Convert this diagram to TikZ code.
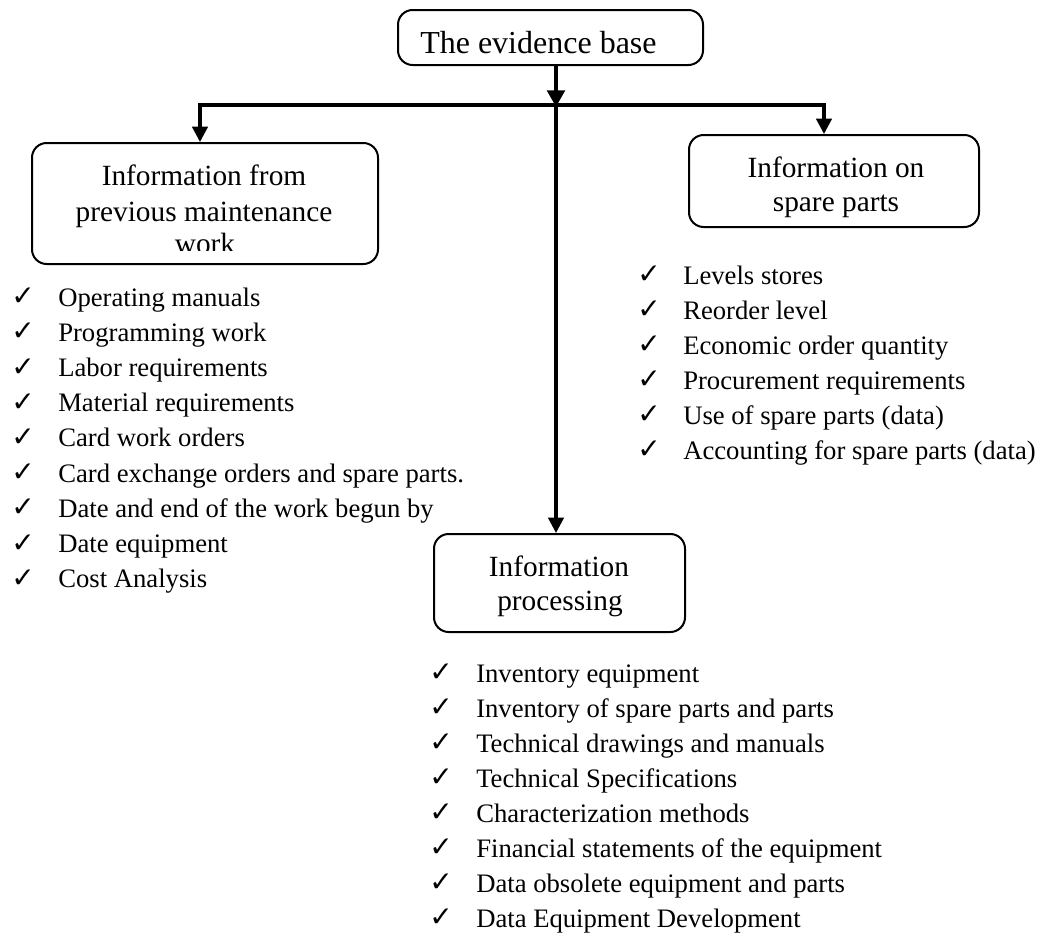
\documentclass[tikz,border=0pt]{standalone}
\usepackage{fontspec}
\setmainfont{Liberation Serif}
\newfontfamily\symfont{DejaVu Sans}
\usetikzlibrary{arrows.meta}

\tikzset{
  px/.style={x=0.75pt,y=-0.75pt},
  box/.style={draw, line width=1.5pt, rounded corners=11pt, inner sep=0pt},
  title/.style={anchor=base, inner sep=0pt, font=\fontsize{22}{26}\selectfont},
  item/.style={anchor=base west, inner sep=0pt, font=\fontsize{20}{24}\selectfont},
  tick/.style={anchor=base west, inner sep=0pt, yshift=0.3pt, font=\symfont\fontsize{21}{24}\selectfont},
  link/.style={line width=2.4pt},
  arrowlink/.style={line width=2.4pt, -{Triangle[length=11.5pt,width=11.5pt]}},
}

\begin{document}
\begin{tikzpicture}[px]
\useasboundingbox (0,0) rectangle (1040,935);

% boxes
\node[box, minimum width=228.75pt, minimum height=41.25pt] (base) at (550.5,37.5) {};
\node[box, minimum width=259.5pt, minimum height=90.75pt] (prev) at (205,203.5) {};
\node[box, minimum width=217.5pt, minimum height=69pt] (spare) at (834,181) {};
\node[box, minimum width=188.25pt, minimum height=73.5pt] (proc) at (559.5,583) {};

% box titles
\node[anchor=base west, inner sep=0pt, font=\fontsize{24}{28}\selectfont] (tbase) at (420,53) {The evidence base};
\node[title] (tprev1) at (204,185) {Information from};
\node[title] (tprev2) at (204,221) {previous maintenance};
\begin{scope}
  \clip (32,143) rectangle (378,250.5);
  \node[title] (tprev3) at (205,253) {work};
\end{scope}
\node[title] (tspare1) at (836,177) {Information on};
\node[title] (tspare2) at (836,211) {spare parts};
\node[title] (tproc1) at (559,576) {Information};
\node[title] (tproc2) at (560,610) {processing};

% distribution bar and arrows
\coordinate (hub) at (556,105);
\coordinate (lend) at (200,105);
\coordinate (rend) at (824,105);
\draw[link, line cap=rect] (lend) -- (rend);
\draw[line width=3.6pt, -{Triangle[length=12.5pt,width=13pt]}] (base.south -| hub) -- ([yshift=-1.5pt]hub);
\draw[arrowlink] (lend) -- (prev.north -| lend);
\draw[arrowlink] (rend) -- (spare.north -| rend);
\draw[arrowlink] (hub) -- (proc.north -| hub);

% list under the previous maintenance work box
\foreach \t [count=\i from 0] in {Operating manuals, Programming work, Labor requirements,
    Material requirements, Card work orders, Card exchange orders and spare parts.,
    Date and end of the work begun by, Date equipment, Cost Analysis} {
  \node[tick] (pc\i) at (11,306+35.2*\i) {✓};
  \node[item] (pi\i) at (58,306+35.2*\i) {\t};
}

% list under the spare parts box
\foreach \t [count=\i from 0] in {Levels stores, Reorder level, Economic order quantity,
    Procurement requirements, Use of spare parts (data), Accounting for spare parts (data)} {
  \node[tick] (sc\i) at (637,284+35*\i) {✓};
  \node[item] (si\i) at (683,284+35*\i) {\t};
}

% list under the processing box
\foreach \t [count=\i from 0] in {Inventory equipment, Inventory of spare parts and parts,
    Technical drawings and manuals, Technical Specifications, Characterization methods,
    Financial statements of the equipment, Data obsolete equipment and parts,
    Data Equipment Development} {
  \node[tick] (rc\i) at (429,682+35*\i) {✓};
  \node[item] (ri\i) at (476,682+35*\i) {\t};
}
\end{tikzpicture}
\end{document}
